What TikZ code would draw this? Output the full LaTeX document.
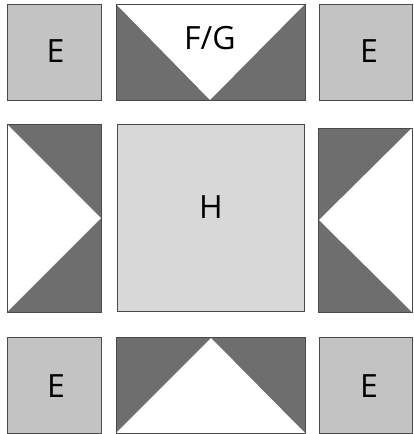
\documentclass[tikz,border=0pt]{standalone}
\usepackage{fontspec}
\setmainfont{Open Sans}
\definecolor{lightE}{HTML}{C3C3C3}
\definecolor{darkG}{HTML}{6E6E6E}
\definecolor{lightH}{HTML}{D8D8D8}
\definecolor{edgeG}{HTML}{4A4A4A}
\begin{document}
\begin{tikzpicture}[x=1pt,y=-1pt,
  edge/.style={draw=edgeG,line width=1pt},
  lbl/.style={anchor=base,inner sep=0pt,font=\fontsize{32}{38}\selectfont}]
\useasboundingbox (0,0) rectangle (413,434);
% corner squares
\filldraw[fill=lightE,edge] (7,4) rectangle (101,100);
\filldraw[fill=lightE,edge] (319,4) rectangle (412,100);
\filldraw[fill=lightE,edge] (7,337) rectangle (101,433);
\filldraw[fill=lightE,edge] (319,337) rectangle (412,433);
% top F/G
\fill[darkG] (116,4) rectangle (305,100);
\fill[white] (116,4) -- (305,4) -- (210,100) -- cycle;
\draw[edge] (116,4) rectangle (305,100);
% bottom
\fill[darkG] (116,337) rectangle (305,433);
\fill[white] (116,433) -- (305,433) -- (211,338) -- cycle;
\draw[edge] (116,337) rectangle (305,433);
% left
\fill[darkG] (7,124) rectangle (101,312);
\fill[white] (7,124) -- (101,218) -- (7,312) -- cycle;
\draw[edge] (7,124) rectangle (101,312);
% right
\fill[darkG] (318,128) rectangle (412,312);
\fill[white] (412,128) -- (319,220) -- (412,312) -- cycle;
\draw[edge] (318,128) rectangle (412,312);
% H
\filldraw[fill=lightH,edge] (117,124) rectangle (304,311);
% labels
\node[lbl] (e1) at (55.5,62) {E};
\node[lbl] (e2) at (369,62) {E};
\node[lbl] (e3) at (56,397) {E};
\node[lbl] (e4) at (369,397) {E};
\node[lbl] (fg) at (210,49) {F/G};
\node[lbl] (h) at (211,218) {H};
\end{tikzpicture}
\end{document}
